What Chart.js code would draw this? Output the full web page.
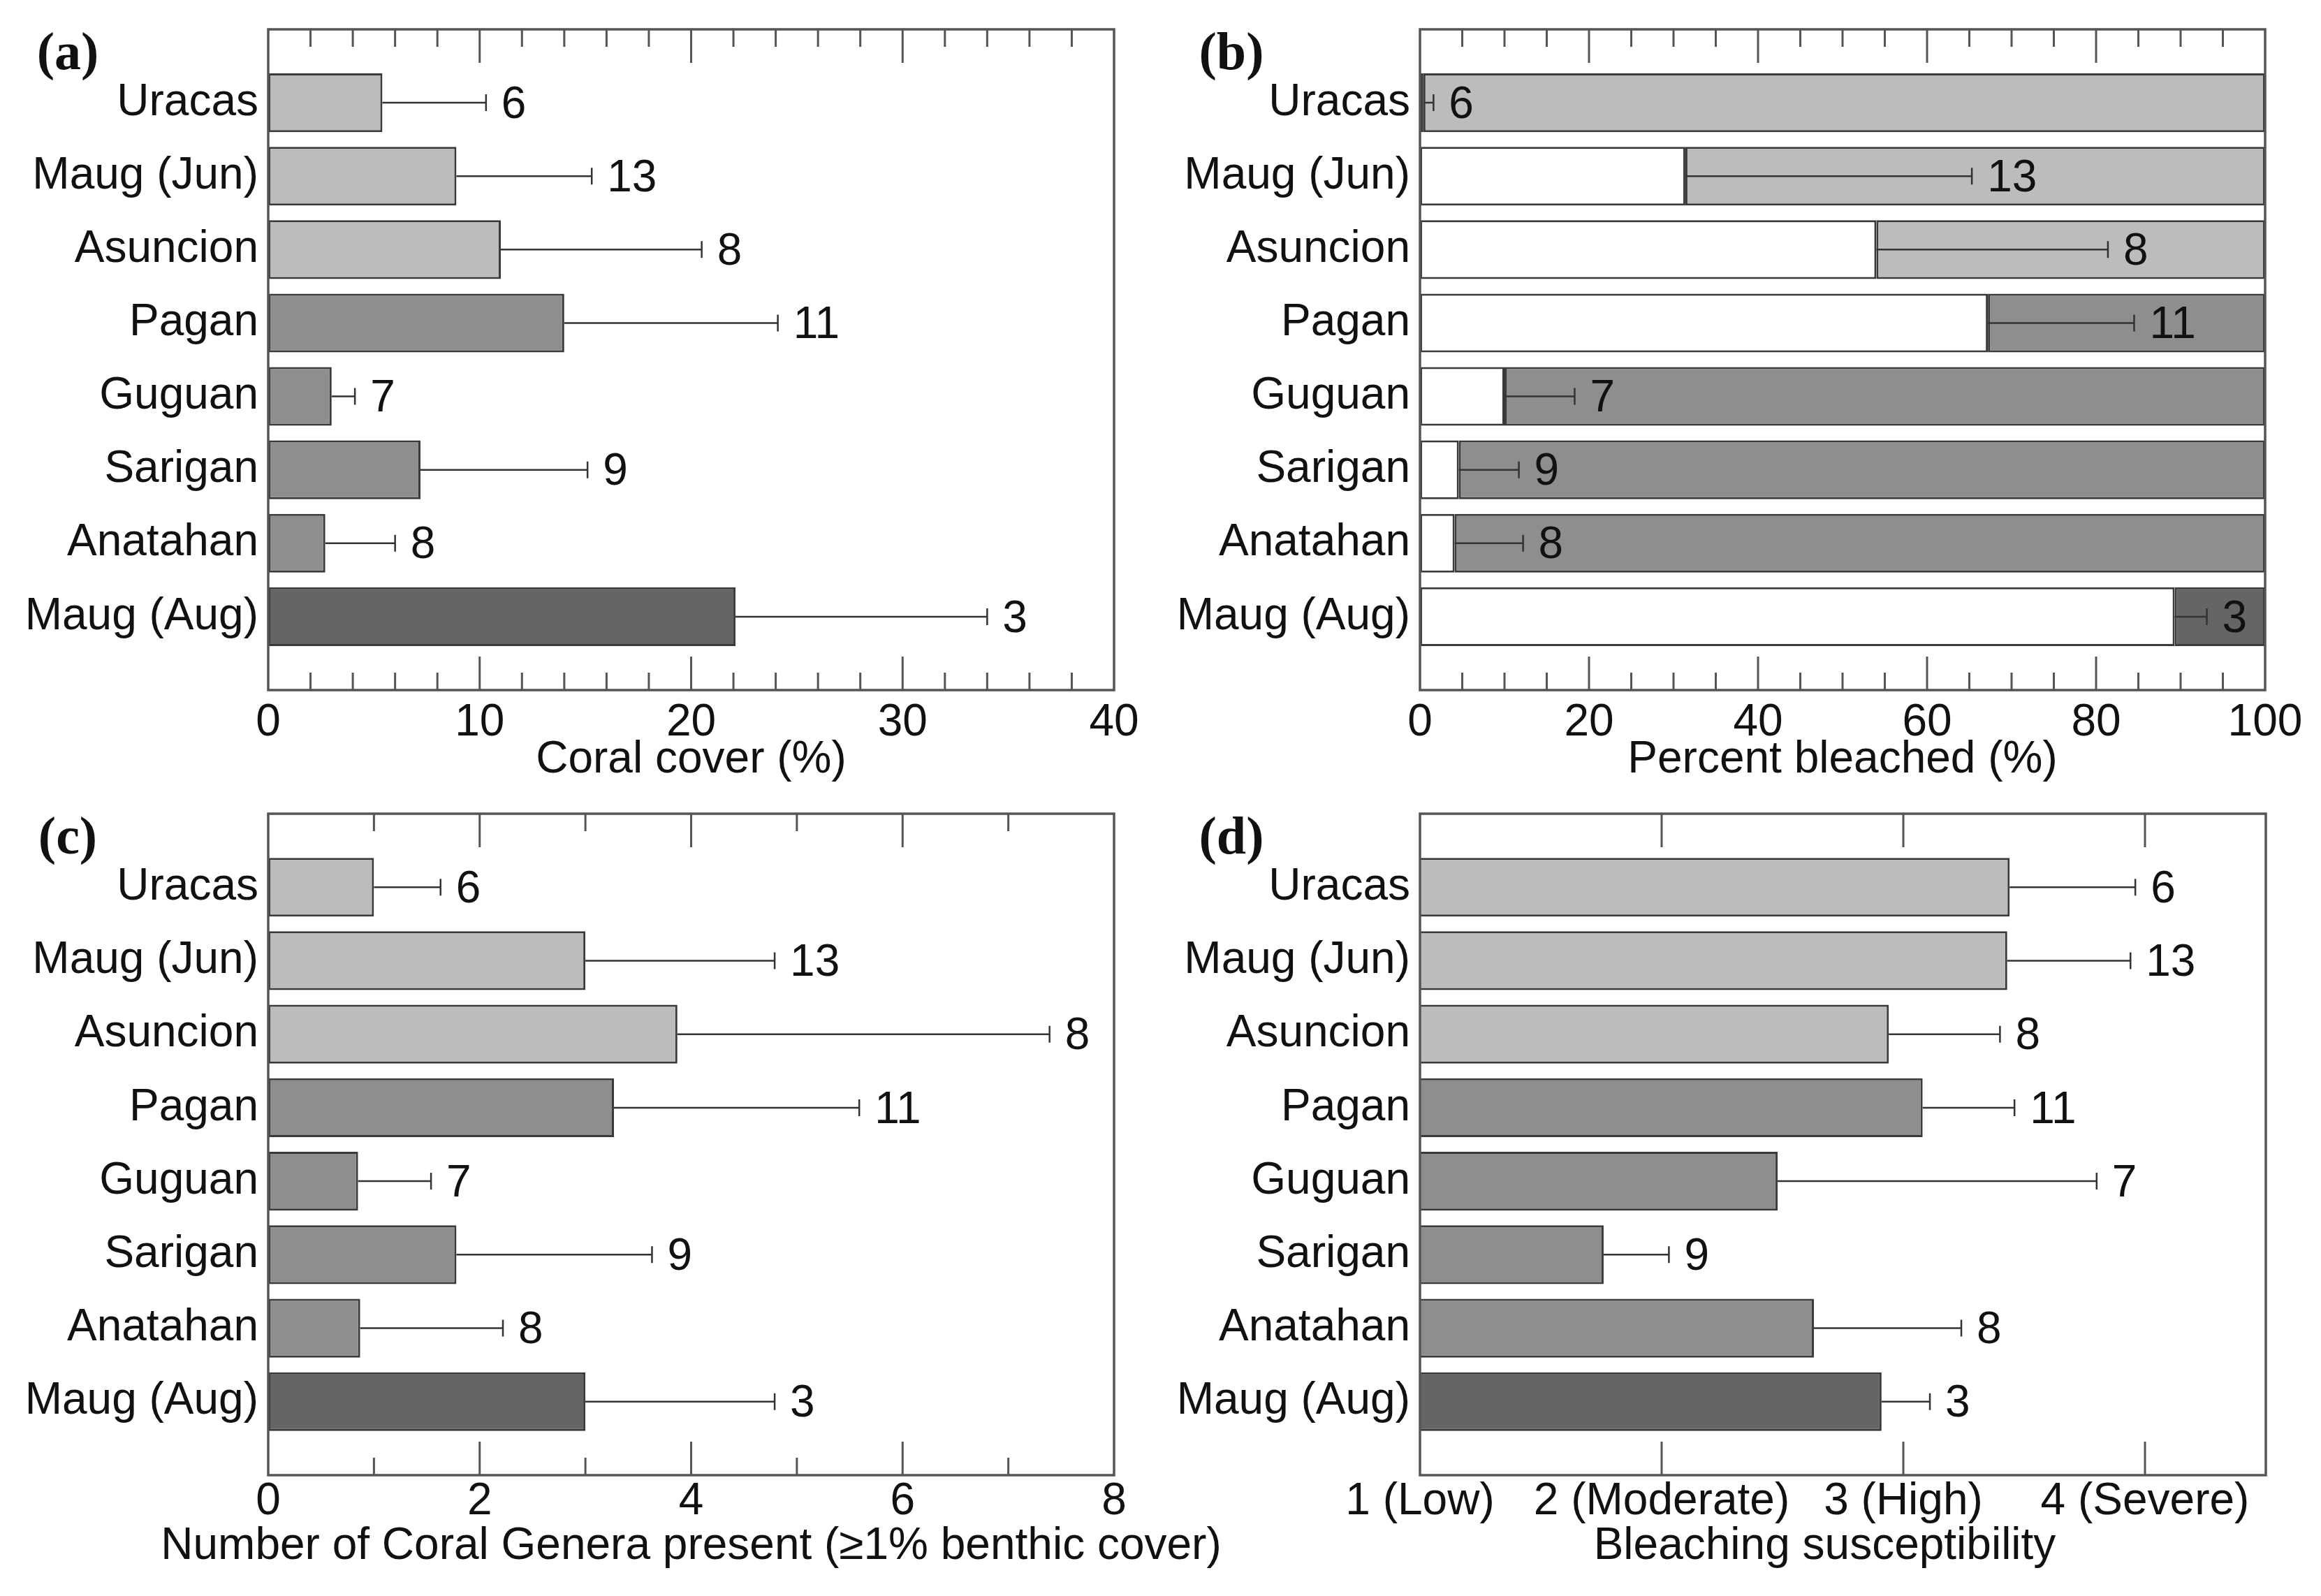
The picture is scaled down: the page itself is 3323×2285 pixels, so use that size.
<!DOCTYPE html>
<html>
<head>
  <title>Coral cover and bleaching by site</title>
  <script src="https://cdn.jsdelivr.net/npm/chart.js@4/dist/chart.umd.min.js"></script>
  <style>
    body{margin:0;background:#fff;width:3323px;height:2285px;position:relative;overflow:hidden}
    canvas{position:absolute}
  </style>
</head>
<body>
<canvas id="chartA"></canvas>
<canvas id="chartB"></canvas>
<canvas id="chartC"></canvas>
<canvas id="chartD"></canvas>

<script>
// site order, top to bottom
var sites = ["Uracas","Maug (Jun)","Asuncion","Pagan","Guguan","Sarigan","Anatahan","Maug (Aug)"]
var nSurveys = [6,13,8,11,7,9,8,3]
var siteColors = ["#bcbcbc","#bcbcbc","#bcbcbc","#8e8e8e","#8e8e8e","#8e8e8e","#8e8e8e","#656565"]

// (a) coral cover %
var coralCover = [5.4, 8.9, 11.0, 14.0, 3.0, 7.2, 2.7, 22.1]
var coralCoverErr = [4.9, 6.4, 9.5, 10.1, 1.1, 7.9, 3.3, 11.9]
// (b) percent bleached
var bleached = [0.4, 31.4, 54.0, 67.2, 10.0, 4.6, 4.1, 89.3]
var bleachedErr = [1.2, 33.9, 27.4, 17.3, 8.3, 7.1, 8.1, 3.8]
// (c) number of coral genera
var genera = [1.0, 3.0, 3.87, 3.27, 0.85, 1.78, 0.87, 3.0]
var generaErr = [0.63, 1.79, 3.52, 2.32, 0.69, 1.85, 1.35, 1.79]
// (d) bleaching susceptibility
var suscept = [3.44, 3.43, 2.94, 3.08, 2.48, 1.76, 2.63, 2.91]
var susceptErr = [0.52, 0.51, 0.46, 0.38, 1.32, 0.27, 0.61, 0.20]
var susceptLabels = ["1 (Low)","2 (Moderate)","3 (High)","4 (Severe)"]

var FONT = '"Liberation Sans", Arial, sans-serif'
var FS = 64

function pad(arr){ return [null].concat(arr, [null]) }

// error bars, n labels, inward ticks, frame, axis title and panel letter
var decorPlugin = {
  id: "decor",
  afterDatasetsDraw: function(chart){
    var o = chart.options.plugins.decor
    var ctx = chart.ctx, area = chart.chartArea, xs = chart.scales.x
    var meta = chart.getDatasetMeta(0)
    ctx.save()
    ctx.strokeStyle = "#333"
    ctx.lineWidth = 2.5
    ctx.fillStyle = "#111"
    ctx.font = FS + "px " + FONT
    ctx.textBaseline = "middle"
    ctx.textAlign = "left"
    for(var i=0;i<o.values.length;i++){
      var y = meta.data[i+1].y
      var x0 = xs.getPixelForValue(o.values[i])
      var x1 = xs.getPixelForValue(o.values[i] + o.err[i])
      ctx.beginPath()
      ctx.moveTo(x0, y); ctx.lineTo(x1, y)
      ctx.moveTo(x1, y-12); ctx.lineTo(x1, y+12)
      ctx.stroke()
      ctx.fillText(String(nSurveys[i]), x1 + 22, y + 4)
    }
    // axis title (drawn here so the long one is not squeezed)
    ctx.textAlign = "center"
    ctx.fillText(o.title, (area.left + area.right)/2 + o.titleShift, area.bottom + o.titleOffset)
    // ticks pointing inward from top and bottom
    ctx.strokeStyle = "#555"
    ctx.lineWidth = 3
    var min = xs.min, max = xs.max
    for(var v=min+o.minor; v<max-1e-9; v+=o.minor){
      var isMajor = Math.abs(Math.round(v/o.major)*o.major - v) < 1e-6
      var len = isMajor ? 48 : 25
      var x = xs.getPixelForValue(v)
      ctx.beginPath()
      ctx.moveTo(x, area.top); ctx.lineTo(x, area.top + len)
      ctx.moveTo(x, area.bottom); ctx.lineTo(x, area.bottom - len)
      ctx.stroke()
    }
    ctx.lineWidth = 3.5
    ctx.strokeRect(area.left, area.top, area.right-area.left, area.bottom-area.top)
    ctx.fillStyle = "#111"
    ctx.font = 'bold 76px "Liberation Serif", serif'
    ctx.fillText(o.letter, o.letterX, area.top + 37)
    ctx.restore()
  }
}

function makePanel(id, p){
  var cv = document.getElementById(id)
  cv.width = p.w; cv.height = p.h
  cv.style.left = p.left + "px"; cv.style.top = p.top + "px"
  cv.style.width = p.w + "px"; cv.style.height = p.h + "px"
  return new Chart(cv.getContext("2d"), {
    type: "bar",
    data: { labels: pad(sites), datasets: p.datasets },
    plugins: [decorPlugin],
    options: {
      indexAxis: "y",
      responsive: false,
      animation: false,
      devicePixelRatio: 1,
      layout: { padding: { top: p.padTop, right: p.padRight, left: 0, bottom: 0 } },
      plugins: {
        legend: { display: false },
        tooltip: { enabled: false },
        decor: { values: p.values, err: p.err, minor: p.minor, major: p.major,
                 letter: p.letter, letterX: p.letterX, title: p.title,
                 titleOffset: p.titleOffset, titleShift: p.titleShift || 0 }
      },
      scales: {
        y: {
          offset: false,
          stacked: p.stacked,
          grid: { display: false, drawTicks: false },
          border: { display: false },
          ticks: { color: "#111", padding: 14, font: { family: FONT, size: FS, lineHeight: 1 } },
          afterFit: function(s){ s.width = p.yWidth; s.paddingTop = 0; s.paddingBottom = 0 }
        },
        x: {
          min: p.min, max: p.max,
          stacked: p.stacked,
          grid: { display: false, drawTicks: false },
          border: { display: false },
          ticks: {
            stepSize: p.step, autoSkip: false, maxRotation: 0,
            color: "#111", padding: p.tickPad,
            font: { family: FONT, size: FS, lineHeight: 1 },
            callback: p.tickCb || function(v){ return v }
          },
          afterFit: function(s){ s.height = p.xHeight; s.paddingLeft = 0; s.paddingRight = 0 }
        }
      }
    }
  })
}

function singleSet(values){
  return [{
    data: pad(values),
    backgroundColor: pad(siteColors),
    borderColor: "#3a3a3a",
    borderWidth: 3,
    borderSkipped: false,
    barPercentage: 0.8,
    categoryPercentage: 1
  }]
}

var topRow = { h: 1142, top: 0, padTop: 42, xHeight: 154, tickPad: 15, titleOffset: 100 }
var bottomRow = { h: 1143, top: 1142, padTop: 23, xHeight: 173, tickPad: 6.5, titleOffset: 102 }

function merge(a, b){ var r = {}; for(var k in a) r[k]=a[k]; for(var k in b) r[k]=b[k]; return r }

makePanel("chartA", merge(topRow, {
  left: 0, w: 1661, padRight: 66, yWidth: 384,
  datasets: singleSet(coralCover), values: coralCover, err: coralCoverErr,
  min: 0, max: 40, step: 10, minor: 2, major: 10,
  title: "Coral cover (%)", letter: "(a)", letterX: 97, stacked: false
}))

var remainder = []
for(i=0;i<bleached.length;i++){ remainder.push(100 - bleached[i]) }
makePanel("chartB", merge(topRow, {
  left: 1661, w: 1662, padRight: 80, yWidth: 372,
  datasets: [
    { data: pad(bleached), backgroundColor: "#ffffff", borderColor: "#3a3a3a", borderWidth: 3, borderSkipped: false, barPercentage: 0.8, categoryPercentage: 1 },
    { data: pad(remainder), backgroundColor: pad(siteColors), borderColor: "#3a3a3a", borderWidth: 3, borderSkipped: false, barPercentage: 0.8, categoryPercentage: 1 }
  ],
  values: bleached, err: bleachedErr,
  min: 0, max: 100, step: 20, minor: 5, major: 20,
  title: "Percent bleached (%)", letter: "(b)", letterX: 102, stacked: true
}))

// canvas c is wider than its column so its long axis title is not cut off
makePanel("chartC", merge(bottomRow, {
  left: 0, w: 1840, padRight: 245, yWidth: 384,
  datasets: singleSet(genera), values: genera, err: generaErr,
  min: 0, max: 8, step: 2, minor: 1, major: 2,
  title: "Number of Coral Genera present (\u22651% benthic cover)", letter: "(c)", letterX: 97, stacked: false
}))

makePanel("chartD", merge(bottomRow, {
  left: 1661, w: 1662, padRight: 79, yWidth: 372,
  datasets: singleSet(suscept), values: suscept, err: susceptErr,
  min: 1, max: 4.5, step: 1, minor: 1, major: 1,
  tickCb: function(v){ return Number.isInteger(v) ? susceptLabels[v-1] : "" },
  title: "Bleaching susceptibility", titleShift: -26, letter: "(d)", letterX: 102, stacked: false
}))
</script>
</body>
</html>
